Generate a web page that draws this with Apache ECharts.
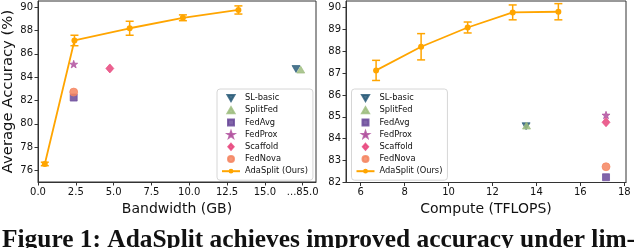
<!DOCTYPE html>
<html>
<head>
<meta charset="utf-8">
<script src="https://cdn.jsdelivr.net/npm/echarts@6/dist/echarts.min.js"></script>
<style>
html,body{margin:0;padding:0;background:#fff;}
#c{width:640px;height:248px;}
</style>
</head>
<body>
<div id="c"></div>
<script>
// ---- data ----
const bwTicks = [0, 2.5, 5, 7.5, 10, 12.5, 15, 17.5];
const bwBreakShift = 67.5; // axis break: values above 16 GB shifted left
const accTicksLeft = [76, 78, 80, 82, 84, 86, 88, 90];
const computeTicks = [6, 8, 10, 12, 14, 16, 18];
const accTicksRight = [82, 83, 84, 85, 86, 87, 88, 89, 90];

const adaBandwidth = [0.45, 2.41, 6.06, 9.58, 13.25];
const adaBwAcc = [76.55, 87.15, 88.2, 89.1, 89.77];
const adaBwErr = [0.15, 0.45, 0.6, 0.25, 0.35];

const adaCompute = [6.70, 8.75, 10.87, 12.92, 15.0];
const adaCompAcc = [87.12, 88.2, 89.08, 89.77, 89.8];
const adaCompErr = [0.46, 0.6, 0.25, 0.34, 0.37];

const baseNames = ['SL-basic', 'SplitFed', 'FedAvg', 'FedProx', 'Scaffold', 'FedNova'];
const baseBandwidth = [84.56, 84.87, 2.36, 2.36, 4.75, 2.36];
const baseBwAcc = [84.7, 84.65, 82.25, 85.12, 84.75, 82.72];
const baseCompute = [13.53, 13.55, 17.17, 17.17, 17.17, 17.17];
const baseCompAcc = [84.57, 84.6, 82.24, 85.08, 84.75, 82.72];

// ---- styles ----
const baseColors = ['#2b5d7a', '#9dbd7f', '#6b4a9a', '#b0509e', '#e8457c', '#f58560'];
const TRI_DOWN = 'path://M-1,-0.8L1,-0.8L0,0.93Z';
const TRI_UP = 'path://M0,-0.93L1,0.8L-1,0.8Z';
const RECT = 'path://M0,0L1,0L1,1L0,1Z';
const STAR = 'path://M0,-10L2.35,-3.24L9.51,-3.09L3.8,1.24L5.88,8.09L0,4L-5.88,8.09L-3.8,1.24L-9.51,-3.09L-2.35,-3.24Z';
const DIAMOND = 'path://M0,-1L0.88,0L0,1L-0.88,0Z';
const CIRCLE = 'path://M1,0A1,1,0,1,1,-1,0A1,1,0,1,1,1,0Z';
const baseSymbols = [TRI_DOWN, TRI_UP, RECT, STAR, DIAMOND, CIRCLE];
const baseSizes = [8, 8, 7, 8, 9, 8];
const ORANGE = '#ffa500';
const FONT = 'DejaVu Sans';

function bwToAxis(v) { return v > 16 ? v - bwBreakShift : v; }

const chart = echarts.init(document.getElementById('c'), null, {renderer: 'canvas'});

function xAxisCfg(idx, min, max, ticks, name, fmt) {
  return {
    type: 'value', gridIndex: idx, min: min, max: max,
    name: name, nameLocation: 'middle', nameGap: 17,
    nameTextStyle: {fontFamily: FONT, fontSize: 14, color: '#111'},
    axisLine: {show: true, onZero: false, lineStyle: {color: '#333', width: 1}},
    axisTick: {show: true, length: 3.5, customValues: ticks, lineStyle: {color: '#333'}},
    axisLabel: {customValues: ticks, fontFamily: FONT, fontSize: 10, color: '#111', margin: 5, formatter: fmt, hideOverlap: false},
    splitLine: {show: false}
  };
}
function yAxisCfg(idx, min, max, ticks, name) {
  return {
    type: 'value', gridIndex: idx, min: min, max: max,
    name: name, nameLocation: 'middle', nameGap: 22,
    nameTextStyle: {fontFamily: FONT, fontSize: 14.8, color: '#111'},
    axisLine: {show: true, onZero: false, lineStyle: {color: '#333', width: 1}},
    axisTick: {show: true, length: 3.5, customValues: ticks, lineStyle: {color: '#333'}},
    axisLabel: {customValues: ticks, fontFamily: FONT, fontSize: 10, color: '#111', margin: 5},
    splitLine: {show: false}
  };
}

function errorSeries(name, xi, yi, xs, ys, es) {
  return {
    type: 'custom', name: name, xAxisIndex: xi, yAxisIndex: yi, z: 3,
    data: xs.map((x, i) => [x, ys[i], es[i]]),
    renderItem: function (params, api) {
      const x = api.value(0), y = api.value(1), e = api.value(2);
      const top = api.coord([x, y + e]);
      const bot = api.coord([x, y - e]);
      const cw = 4;
      const st = {stroke: ORANGE, lineWidth: 1.5};
      return {type: 'group', children: [
        {type: 'line', shape: {x1: top[0], y1: top[1], x2: bot[0], y2: bot[1]}, style: st},
        {type: 'line', shape: {x1: top[0] - cw, y1: top[1], x2: top[0] + cw, y2: top[1]}, style: st},
        {type: 'line', shape: {x1: bot[0] - cw, y1: bot[1], x2: bot[0] + cw, y2: bot[1]}, style: st}
      ]};
    },
    tooltip: {show: false}
  };
}

const series = [];
// baselines
baseNames.forEach((n, i) => {
  const st = {color: baseColors[i], opacity: 0.85, borderColor: baseColors[i], borderWidth: 0.8};
  series.push({
    type: 'scatter', name: n, xAxisIndex: 0, yAxisIndex: 0, z: 4,
    symbol: baseSymbols[i], symbolSize: baseSizes[i], symbolKeepAspect: true,
    itemStyle: st,
    data: [[bwToAxis(baseBandwidth[i]), baseBwAcc[i]]]
  });
  series.push({
    type: 'scatter', name: n, xAxisIndex: 1, yAxisIndex: 1, z: 4,
    symbol: baseSymbols[i], symbolSize: baseSizes[i], symbolKeepAspect: true,
    itemStyle: st,
    data: [[baseCompute[i], baseCompAcc[i]]]
  });
});
// AdaSplit
const adaName = 'AdaSplit (Ours)';
series.push({
  type: 'line', name: adaName, xAxisIndex: 0, yAxisIndex: 0, z: 5,
  symbol: 'circle', symbolSize: 6, showAllSymbol: true,
  lineStyle: {color: ORANGE, width: 1.8}, itemStyle: {color: ORANGE, borderWidth: 0},
  data: adaBandwidth.map((x, i) => [x, adaBwAcc[i]])
});
series.push({
  type: 'line', name: adaName, xAxisIndex: 1, yAxisIndex: 1, z: 5,
  symbol: 'circle', symbolSize: 6, showAllSymbol: true,
  lineStyle: {color: ORANGE, width: 1.8}, itemStyle: {color: ORANGE, borderWidth: 0},
  data: adaCompute.map((x, i) => [x, adaCompAcc[i]])
});
series.push(errorSeries('err0', 0, 0, adaBandwidth, adaBwAcc, adaBwErr));
series.push(errorSeries('err1', 1, 1, adaCompute, adaCompAcc, adaCompErr));

function legendCfg(left) {
  return {
    orient: 'vertical', left: left, top: 89,
    data: baseNames.concat([adaName]),
    itemWidth: 18, itemHeight: 6, itemGap: 2.2, padding: [4, 5, 4, 4],
    symbolKeepAspect: true,
    backgroundColor: '#fff', borderColor: '#d6d6d6', borderWidth: 1, borderRadius: 3,
    textStyle: {fontFamily: FONT, fontSize: 8.3, lineHeight: 10, color: '#111'},
    selectedMode: false
  };
}

chart.setOption({
  animation: false,
  grid: [
    {left: 37.5, top: 1, width: 278.5, height: 181, show: true, borderColor: '#333', borderWidth: 1, backgroundColor: 'transparent'},
    {left: 346, top: 1, width: 280, height: 181.5, show: true, borderColor: '#333', borderWidth: 1, backgroundColor: 'transparent'}
  ],
  xAxis: [
    xAxisCfg(0, 0, 18.38, bwTicks, 'Bandwidth (GB)', function (v) { return v > 16 ? '...' + (v + bwBreakShift).toFixed(1) : v.toFixed(1); }),
    xAxisCfg(1, 5.33, 18.08, computeTicks, 'Compute (TFLOPS)', function (v) { return String(v); })
  ],
  yAxis: [
    yAxisCfg(0, 75, 90.54, accTicksLeft, 'Average Accuracy (%)'),
    yAxisCfg(1, 82, 90.29, accTicksRight, '')
  ],
  legend: [legendCfg(217), legendCfg(351.5)],
  series: series,
  graphic: [{
    type: 'text', left: 2, top: 228,
    style: {text: 'Figure 1: AdaSplit achieves improved accuracy under lim-', fontFamily: 'Liberation Serif', fontWeight: 'bold', fontSize: 25.4, fill: '#111'}
  }]
});
</script>
</body>
</html>
